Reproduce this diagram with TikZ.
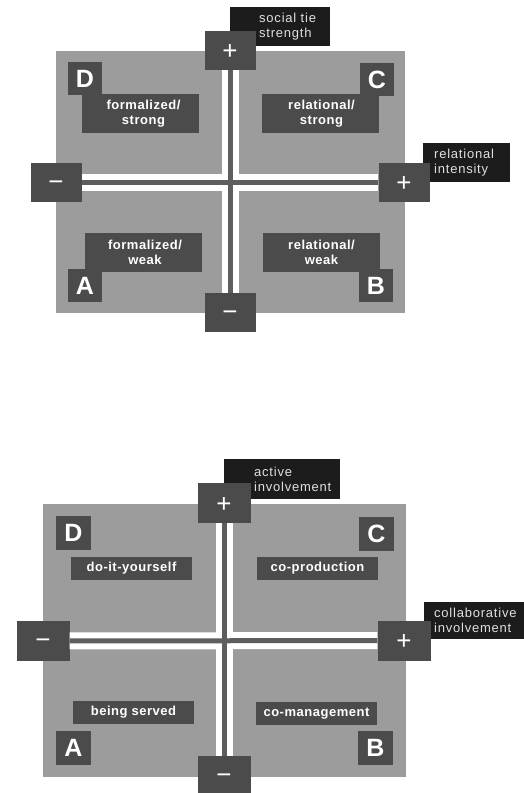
\documentclass[tikz,border=0pt]{standalone}
\usepackage{fontspec}
\setmainfont{Liberation Sans}
\newfontfamily\boxfont[LetterSpace=4]{Liberation Sans}
\newfontfamily\tagfont[LetterSpace=6]{Liberation Sans}
\definecolor{panelgray}{HTML}{9C9C9C}
\definecolor{boxgray}{HTML}{4B4B4B}
\definecolor{tagblack}{HTML}{1C1C1C}
\definecolor{axisgray}{HTML}{5E5E5E}
\newcommand{\plussign}{\raisebox{-1.5pt}[\height][\depth]{+}}
\newcommand{\minussign}{\raisebox{-3pt}[\height][\depth]{−}}

\begin{document}
\begin{tikzpicture}[x=1pt, y=-1pt,
    axisbox/.style={fill=boxgray, text=white, inner sep=0pt, minimum width=51pt, minimum height=39pt, font=\fontsize{26}{26}\selectfont},
    letterbox/.style={fill=boxgray, text=white, inner sep=0pt, minimum width=34pt, minimum height=33pt, font=\bfseries\fontsize{25}{25}\selectfont},
    typebox/.style={fill=boxgray, text=white, inner sep=0pt, align=center, font=\boxfont\bfseries\fontsize{13}{15}\selectfont},
    twoline/.style={typebox, minimum width=117pt, minimum height=39pt},
    oneline/.style={typebox, minimum width=121pt, minimum height=23pt},
    tagtext/.style={text=white!88!black, inner sep=0pt, align=left, anchor=west, font=\tagfont\fontsize{13}{15}\selectfont},
    band/.style={white, line width=17pt},
    axisline/.style={axisgray, line width=5pt}]
    \useasboundingbox (0,0) rectangle (523,793);

    % upper panel: social tie strength / relational intensity
    \fill[panelgray] (56,51) rectangle (405,313);
    \fill[tagblack] (230,7) rectangle (330,46);
    \fill[tagblack] (423,143) rectangle (510,182);
    \node[tagtext] (ttag) at (259,26.5) {social tie\\strength};
    \node[tagtext] (rtag) at (434,162.5) {relational\\intensity};
    \node[axisbox] (tplus) at (230,50) {\plussign};
    \node[axisbox] (tminus) at (230,312.5) {\minussign};
    \node[axisbox] (rminus) at (56,182.5) {\minussign};
    \node[axisbox] (rplus) at (404,182.5) {\plussign};
    \node[twoline] (fstrong) at (140.5,113.5) {\hspace{6pt}formalized/\\\hspace{6pt}strong};
    \node[twoline] (rstrong) at (320,113.5) {\hspace{3pt}relational/\\\hspace{3pt}strong};
    \node[twoline] (fweak) at (143,252) {\hspace{4pt}formalized/\\\hspace{4pt}weak};
    \node[twoline] (rweak) at (321,252.5) {\hspace{1pt}relational/\\\hspace{1pt}weak};
    \node[letterbox] (tD) at (85,78.5) {D};
    \node[letterbox] (tC) at (377,79.5) {C};
    \node[letterbox] (tA) at (85,285.5) {A};
    \node[letterbox] (tB) at (376,285.5) {B};
    \draw[band] (rminus) -- (rplus);
    \draw[band] (tplus) -- (tminus);
    \draw[axisline] (rminus) -- (rplus);
    \draw[axisline] (tplus) -- (tminus);

    % lower panel: active / collaborative involvement
    \fill[panelgray] (43,504) rectangle (406,777);
    \fill[tagblack] (224,459) rectangle (340,499);
    \fill[tagblack] (424,602) rectangle (530,639);
    \node[tagtext] (atag) at (254,479) {active\\involvement};
    \node[tagtext] (ctag) at (434,620.5) {collaborative\\involvement};
    \node[axisbox, minimum width=53pt, minimum height=40pt] (aplus) at (224,503) {\plussign};
    \node[axisbox, minimum width=53pt, minimum height=40pt] (aminus) at (224,776) {\minussign};
    \node[axisbox, minimum width=53pt, minimum height=40pt] (cminus) at (43,641) {\minussign};
    \node[axisbox, minimum width=53pt, minimum height=40pt] (cplus) at (404,640.5) {\plussign};
    \node[oneline] (diy) at (131.5,568) {do-it-yourself};
    \node[oneline] (coprod) at (317.5,568.5) {co-production};
    \node[oneline] (served) at (133.5,712.5) {being served};
    \node[oneline] (comanage) at (316.5,713.5) {co-management};
    \node[letterbox, minimum width=35pt, minimum height=34pt] (bD) at (73.5,533) {D};
    \node[letterbox, minimum width=35pt, minimum height=34pt] (bC) at (376.5,534) {C};
    \node[letterbox, minimum width=35pt, minimum height=34pt] (bA) at (73.5,748) {A};
    \node[letterbox, minimum width=35pt, minimum height=34pt] (bB) at (375.5,748) {B};
    \draw[band] (cminus) -- (cplus);
    \draw[band] (aplus) -- (aminus);
    \draw[axisline] (cminus) -- (cplus);
    \draw[axisline] (aplus) -- (aminus);
\end{tikzpicture}
\end{document}
